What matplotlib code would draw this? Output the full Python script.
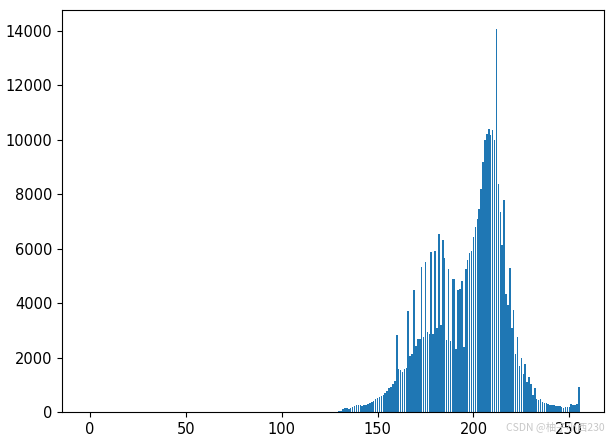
import matplotlib
matplotlib.use("Agg")
import matplotlib.pyplot as plt
import numpy as np

# grey-level counts, bins 0..129 are empty
first_bin = 130
counts_tail = [
    40, 30, 100, 170, 170, 110, 170, 190, 220, 260,          # 130-139
    280, 280, 210, 280, 280, 290, 330, 370, 420, 470,        # 140-149
    520, 560, 600, 630, 710, 780, 870, 930, 1050, 1140,      # 150-159
    2820, 1580, 1540, 1480, 1600, 1620, 3700, 2050, 2150, 4500,   # 160-169
    2420, 2670, 2700, 5320, 2750, 5500, 2940, 2880, 5870, 2860,   # 170-179
    5930, 3090, 6540, 3190, 6300, 5650, 2640, 5260, 2600, 4900,   # 180-189
    4870, 2330, 4500, 4530, 4830, 2390, 5260, 5590, 5840, 5930,   # 190-199
    6420, 6800, 7100, 7460, 8200, 9170, 10000, 10200, 10400, 10170,  # 200-209
    10370, 10000, 14050, 8380, 7340, 6120, 7770, 4320, 3920, 5290,   # 210-219
    3100, 3760, 2150, 2760, 1700, 2000, 1390, 1750, 1110, 1300,   # 220-229
    1050, 620, 870, 500, 450, 480, 380, 350, 320, 290,       # 230-239
    270, 260, 250, 230, 220, 220, 180, 170, 200, 200,        # 240-249
    190, 290, 260, 250, 290, 930,                            # 250-255
]

bins = np.arange(256)
counts = np.zeros(256)
counts[first_bin:first_bin + len(counts_tail)] = counts_tail

fig = plt.figure(figsize=(6.13, 4.38), dpi=100)
ax = fig.add_axes([0.101, 0.059, 0.885, 0.918])
ax.bar(bins, counts, color="#1f77b4")
ax.set_xlim(-14.6, 268.3)
ax.tick_params(labelsize=10.5)

fig.text(0.987, 0.014, "CSDN @柚子小西230", ha="right", va="bottom",
         fontsize=7.5, color="#c8c8c8",
         family=["Noto Sans CJK SC", "DejaVu Sans"])

fig.savefig("out.png", dpi=100)
